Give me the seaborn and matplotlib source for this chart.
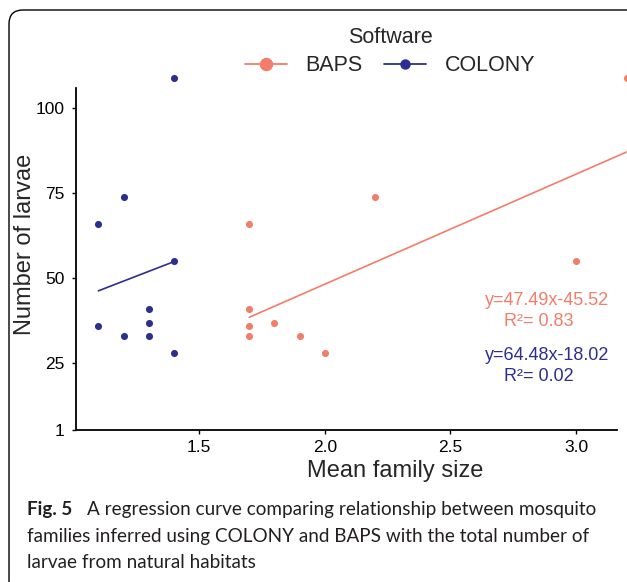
import pandas as pd
import seaborn as sns
import matplotlib.pyplot as plt
from matplotlib.lines import Line2D
from matplotlib.patches import FancyBboxPatch

sns.set_style('ticks')
plt.rcParams['font.family'] = ['Liberation Sans', 'DejaVu Sans']

# data
software = ['BAPS', 'COLONY']
baps_x = [1.7, 1.7, 1.7, 1.7, 1.8, 1.9, 2.0, 2.2, 3.0, 3.2]
baps_y = [66, 41, 36, 33, 37, 33, 28, 74, 55, 109]
colony_x = [1.1, 1.1, 1.2, 1.2, 1.3, 1.3, 1.3, 1.4, 1.4, 1.4]
colony_y = [66, 36, 74, 33, 41, 37, 33, 109, 55, 28]
equations = ['y=47.49x-45.52', 'y=64.48x-18.02']
r_squared = ['R\u00b2= 0.83', 'R\u00b2= 0.02']
x_ticks = [1.5, 2.0, 2.5, 3.0]
y_ticks = [5.4, 25, 50, 75, 100]
y_ticklabels = ['1', '25', '50', '75', '100']

df = pd.concat([
    pd.DataFrame({'size': baps_x, 'larvae': baps_y, 'Software': 'BAPS'}),
    pd.DataFrame({'size': colony_x, 'larvae': colony_y, 'Software': 'COLONY'}),
])
colors = {'BAPS': '#F37C6A', 'COLONY': '#2C2F8E'}

W, H = 627, 582
fig = plt.figure(figsize=(W / 100, H / 100), dpi=100)
ax = fig.add_axes([76 / W, 1 - 430 / H, 541 / W, 342 / H])

for s in software:
    sub = df[df['Software'] == s]
    sns.regplot(data=sub, x='size', y='larvae', ax=ax, ci=None,
                color=colors[s],
                scatter_kws={'s': 26, 'linewidths': 0, 'alpha': 1, 'clip_on': False},
                line_kws={'lw': 1.2, 'clip_on': False})

ax.set_xlim(1.011, 3.162)
ax.set_ylim(5.4, 106)
ax.set_xticks(x_ticks)
ax.set_xticklabels([f'{t:.1f}' for t in x_ticks])
ax.set_yticks(y_ticks)
ax.set_yticklabels(y_ticklabels)
sns.despine(ax=ax)
for sp in ['left', 'bottom']:
    ax.spines[sp].set_linewidth(1.3)
    ax.spines[sp].set_color('black')
ax.tick_params(axis='both', labelsize=12.5, colors='black', length=3, width=1)
ax.tick_params(axis='x', pad=4)
ax.tick_params(axis='y', pad=5.5)

ax.set_xlabel('Mean family size', fontsize=17, va='center')
ax.xaxis.set_label_coords(0.59, -0.12)
ax.set_ylabel('Number of larvae', fontsize=17, va='center')
ax.yaxis.set_label_coords(-0.094, 0.544)

# regression equations
ax.text(0.871, 0.380, equations[0], color=colors['BAPS'], fontsize=13, ha='center', va='center', transform=ax.transAxes)
ax.text(0.855, 0.316, r_squared[0], color=colors['BAPS'], fontsize=13, ha='center', va='center', transform=ax.transAxes)
ax.text(0.871, 0.219, equations[1], color=colors['COLONY'], fontsize=13, ha='center', va='center', transform=ax.transAxes)
ax.text(0.855, 0.155, r_squared[1], color=colors['COLONY'], fontsize=13, ha='center', va='center', transform=ax.transAxes)

# legend
handles = [Line2D([], [], color=colors['BAPS'], marker='o', markersize=8.6, lw=1.3),
           Line2D([], [], color=colors['COLONY'], marker='o', markersize=6.5, lw=1.3)]
fig.legend(handles, software, title='Software', ncol=2, loc='upper center',
           bbox_to_anchor=(390 / W, 1 - 16 / H), frameon=False, fontsize=15.5,
           title_fontsize=15.5, handlelength=1.95, handletextpad=0.85,
           columnspacing=1.0, borderpad=0, labelspacing=0.35)

# frame around figure panel (right side runs off the canvas)
frame = FancyBboxPatch((0.09, -0.13), 7.0, 5.85, boxstyle='round,pad=0,rounding_size=0.14',
                       transform=fig.dpi_scale_trans, fill=False, lw=1.0, ec='black')
fig.add_artist(frame)

# caption
cap_font = ['Lato', 'DejaVu Sans']
cap_size = 13.6
fig.text(27 / W, 1 - 515 / H, 'Fig. 5', fontsize=cap_size, weight='bold',
         family=cap_font, va='baseline', color='#231F20')
fig.text(87 / W, 1 - 515 / H, 'A regression curve comparing relationship between mosquito',
         fontsize=cap_size, family=cap_font, va='baseline', color='#231F20')
fig.text(27 / W, 1 - 542 / H, 'families inferred using COLONY and BAPS with the total number of',
         fontsize=cap_size, family=cap_font, va='baseline', color='#231F20')
fig.text(27 / W, 1 - 568 / H, 'larvae from natural habitats',
         fontsize=cap_size, family=cap_font, va='baseline', color='#231F20')

fig.savefig('out.png', dpi=100)
